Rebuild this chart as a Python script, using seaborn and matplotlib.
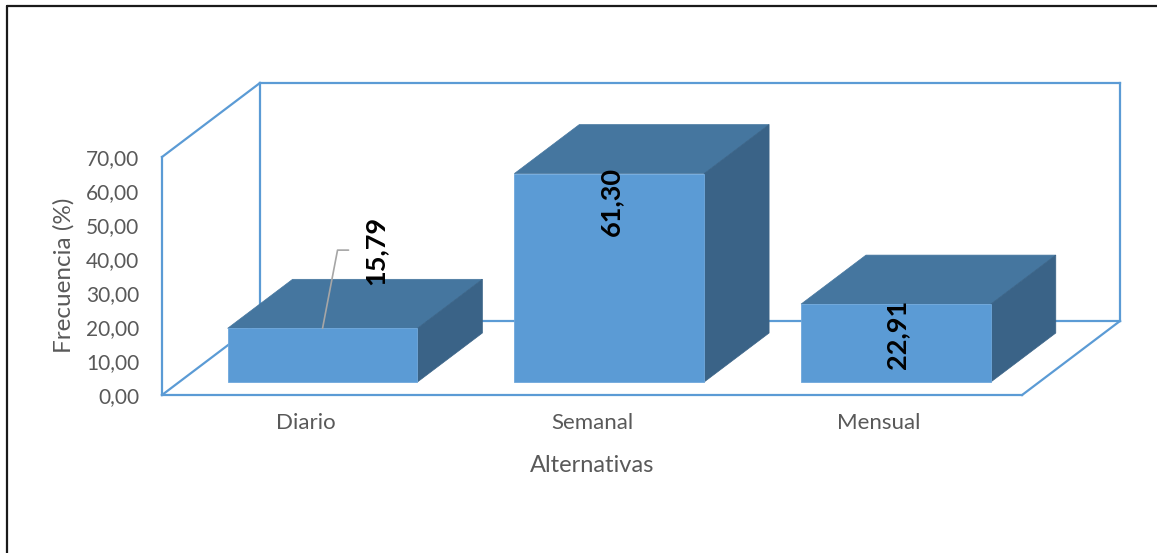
import numpy as np
import pandas as pd
import matplotlib
matplotlib.use("Agg")
import matplotlib.pyplot as plt
from matplotlib.patches import Polygon
from matplotlib.lines import Line2D
import seaborn as sns

# Data
categories = ["Diario", "Semanal", "Mensual"]
values = [15.79, 61.30, 22.91]
value_labels = ["15,79", "61,30", "22,91"]
y_ticks = [0, 10, 20, 30, 40, 50, 60, 70]

sns.set_theme(style="white")
plt.rcParams["font.family"] = ["Lato", "DejaVu Sans"]

W, H = 1157, 553
fig = plt.figure(figsize=(W / 100, H / 100), dpi=100)

# Plot area in pixels: front-left corner of the floor and back wall top
left_px, right_px, bottom_px, top_px = 162, 1120, 395, 81
ax = fig.add_axes([left_px / W, 1 - bottom_px / H,
                   (right_px - left_px) / W, (bottom_px - top_px) / H])

px_per_cat = 287.0
px_per_unit = 238.0 / 70.0
# depth of the floor (perspective offset)
DX = 98 / px_per_cat
DY = 74 / px_per_unit
# depth placement of the boxes within the floor
D0 = 13 / 74.0
BDX = 65 / px_per_cat
BDY = 49 / px_per_unit

xmin = -0.5
xmax = 2.5 + DX
ymax_lim = (bottom_px - top_px) / px_per_unit

front = "#5B9BD5"
top_c = "#45769F"
side_c = "#3A6387"
frame_c = "#5B9BD5"
text_c = "#595959"

df = pd.DataFrame({"Alternativas": categories, "Frecuencia": values})
sns.barplot(data=df, x="Alternativas", y="Frecuencia", ax=ax, color=front,
            saturation=1, width=190 / px_per_cat, linewidth=0.6,
            edgecolor="#6FA8DC", zorder=5)

ax.set_xlim(xmin, xmax)
ax.set_ylim(0, ymax_lim)

# 3-D frame: floor, left wall edge and back wall
fl = dict(color=frame_c, lw=1.6, solid_capstyle="projecting", clip_on=False)
x0, x1 = -0.5, 2.5
ymax = 70
ax.plot([x0 + DX, x1 + DX], [DY, DY], zorder=1, **fl)            # back floor edge
ax.plot([x0 + DX, x0 + DX], [DY, ymax + DY], zorder=1, **fl)     # back-left vertical
ax.plot([x1 + DX, x1 + DX], [DY, ymax + DY], zorder=1, **fl)     # back-right vertical
ax.plot([x0 + DX, x1 + DX], [ymax + DY, ymax + DY], zorder=1, **fl)  # back top
ax.plot([x0, x0 + DX], [0, DY], zorder=1, **fl)                  # left floor diagonal
ax.plot([x1, x1 + DX], [0, DY], zorder=1, **fl)                  # right floor diagonal
ax.plot([x0, x1], [0, 0], zorder=8, **fl)                        # front floor edge
ax.plot([x0, x0], [0, ymax], zorder=8, **fl)                     # left vertical (value axis)
ax.plot([x0, x0 + DX], [ymax, ymax + DY], zorder=8, **fl)        # left top diagonal

# Shift bars into depth and add top / side faces
base = D0 * DY
shift = D0 * DX
bars = [p for p in ax.patches]
for p in bars:
    bx = p.get_x() + shift
    bw = p.get_width()
    h = p.get_height()
    p.set_x(bx)
    p.set_y(base)
    bx1 = bx + bw
    ytop = base + h
    top = Polygon([(bx, ytop), (bx1, ytop), (bx1 + BDX, ytop + BDY), (bx + BDX, ytop + BDY)],
                  closed=True, facecolor=top_c, edgecolor=top_c, lw=0.5, zorder=4)
    side = Polygon([(bx1, base), (bx1, ytop), (bx1 + BDX, ytop + BDY), (bx1 + BDX, base + BDY)],
                   closed=True, facecolor=side_c, edgecolor=side_c, lw=0.5, zorder=4)
    ax.add_patch(top)
    ax.add_patch(side)

# Value labels
lab_kw = dict(rotation=90, ha="center", va="center", fontsize=19.5,
              fontweight="bold", color="black", zorder=10)
# Diario: label above the box with a leader line
bx = bars[0].get_x(); bw = bars[0].get_width()
h0 = values[0]
cx0 = bx + bw / 2
lx = cx0 + 53 / px_per_cat
ly = base + h0 + 23.0
ax.text(lx, ly, value_labels[0], **lab_kw)
ax.plot([cx0, cx0 + 15 / px_per_cat, cx0 + 26 / px_per_cat],
        [base + h0, ly, ly], color="#A6A6A6", lw=1.2, zorder=9)
# Semanal: inside, near the top
bx = bars[1].get_x(); bw = bars[1].get_width()
ax.text(bx + bw / 2 + 2 / px_per_cat, base + values[1] - 8.1, value_labels[1], **lab_kw)
# Mensual: centred on the front face
bx = bars[2].get_x(); bw = bars[2].get_width()
ax.text(bx + bw / 2 + 1 / px_per_cat, base + values[2] / 2 + 2.6, value_labels[2], **lab_kw)

# Axes decoration
for s in ax.spines.values():
    s.set_visible(False)
ax.set_yticks(y_ticks)
ax.set_yticklabels([f"{v:.2f}".replace(".", ",") for v in y_ticks])
ax.set_xticks(range(len(categories)))
ax.set_xticklabels(categories)
ax.tick_params(axis="y", length=0, pad=16.5, labelsize=15, labelcolor=text_c)
ax.tick_params(axis="x", length=0, pad=13, labelsize=16, labelcolor=text_c)

ax.set_xlabel("Alternativas", fontsize=17, color=text_c)
ax.xaxis.label.set_va("center")
ax.xaxis.set_label_coords((592 - left_px) / (right_px - left_px),
                          -(466 - bottom_px) / (bottom_px - top_px))
ax.set_ylabel("Frecuencia (%)", fontsize=17.5, color=text_c)
ax.yaxis.label.set_va("center")
ax.yaxis.label.set_ha("center")
ax.yaxis.set_label_coords(-(left_px - 63.5) / (right_px - left_px),
                          (bottom_px - 275) / (bottom_px - top_px))
ax.patch.set_alpha(0)

# Outer chart border
fig.add_artist(Line2D([6.5 / W, 6.5 / W], [0, 1 - 5.5 / H], color="#1a1a1a", lw=1.6,
                      transform=fig.transFigure))
fig.add_artist(Line2D([6.5 / W, 1], [1 - 5.5 / H, 1 - 5.5 / H], color="#1a1a1a", lw=1.6,
                      transform=fig.transFigure))

fig.savefig("out.png", dpi=100, facecolor="white")
